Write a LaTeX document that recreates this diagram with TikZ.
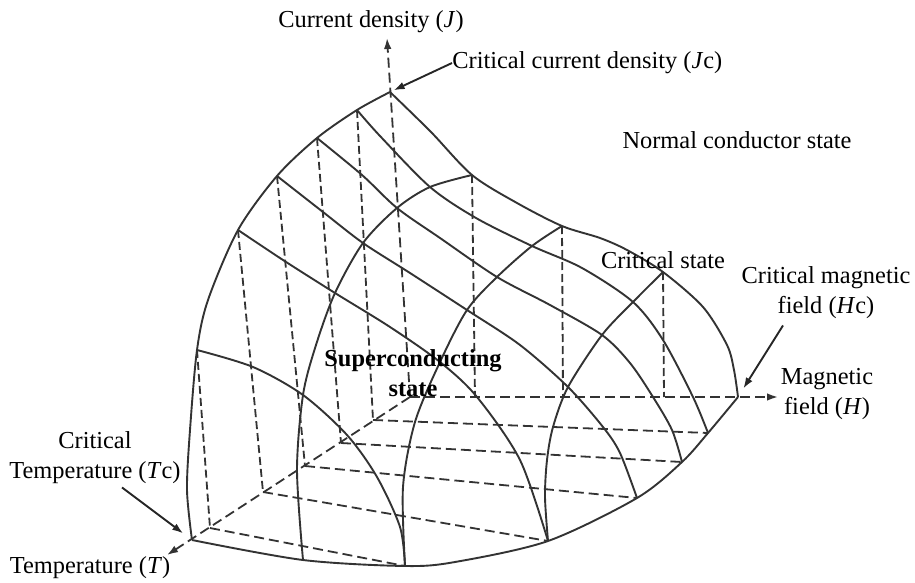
\documentclass[tikz,border=0pt]{standalone}
\usepackage{fontspec}
\setmainfont{Liberation Serif}
\usetikzlibrary{arrows.meta}
\begin{document}
\begin{tikzpicture}[x=0.5pt, y=-0.5pt,
    surf/.style={draw=black!80, line width=0.95pt},
    drop/.style={draw=black!80, line width=0.9pt, dash pattern=on 4pt off 2pt},
    floor/.style={draw=black!80, line width=0.9pt, dash pattern=on 5pt off 2.5pt},
    axis/.style={floor, -{Latex[length=5.5pt, width=3.8pt]}},
    pointer/.style={draw=black!85, line width=0.95pt, -{Latex[length=5.5pt, width=3.8pt]}},
    lbl/.style={font=\fontsize{12.2pt}{15pt}\selectfont, inner sep=0pt, align=center}]
    \useasboundingbox (0,0) rectangle (915,583);

    \coordinate (O) at (410,397);
    \coordinate (jtip) at (387,38);
    \coordinate (htip) at (778,397);
    \coordinate (ttip) at (167,555);

    \coordinate (t0h0) at (390,92);
    \coordinate (t0h1) at (472,175);
    \coordinate (t0h2) at (562,226);
    \coordinate (t0h3) at (663,272);
    \coordinate (t0e) at (738,397);
    \coordinate (t1h0) at (357,110);
    \coordinate (t1h1) at (430,187);
    \coordinate (t1h2) at (532,246);
    \coordinate (t1h3) at (633,302);
    \coordinate (t1e) at (708,433);
    \coordinate (t2h0) at (317,138);
    \coordinate (t2h1) at (397,208);
    \coordinate (t2h2) at (497,277);
    \coordinate (t2h3) at (602,335);
    \coordinate (t2e) at (682,462);
    \coordinate (t3h0) at (277,176);
    \coordinate (t3h1) at (363,243);
    \coordinate (t3h2) at (467,310);
    \coordinate (t3h3) at (568,387);
    \coordinate (t3e) at (637,498);
    \coordinate (t4h0) at (238,230);
    \coordinate (t4h1) at (335,293);
    \coordinate (t4h2) at (440,362);
    \coordinate (t4e) at (548,541);
    \coordinate (t5h0) at (197,350);
    \coordinate (t5h1) at (303,395);
    \coordinate (t5e) at (405,566);
    \coordinate (h1e) at (303,560);
    \coordinate (tc) at (192,540);

    \coordinate (p1) at (373,420);
    \coordinate (p2) at (341,443);
    \coordinate (p3) at (305,466);
    \coordinate (p4) at (263,492);
    \coordinate (p5) at (210,528);
    \coordinate (q1) at (475,397);
    \coordinate (q2) at (563,397);
    \coordinate (q3) at (664,397);

    \draw [axis] (O) -- (jtip);
    \draw [axis] (O) -- (htip);
    \draw [axis] (O) -- (ttip);

    \draw [drop] (t1h0) -- (p1);
    \draw [drop] (t2h0) -- (p2);
    \draw [drop] (t3h0) -- (p3);
    \draw [drop] (t4h0) -- (p4);
    \draw [drop] (t5h0) -- (p5);
    \draw [drop] (t0h1) -- (q1);
    \draw [drop] (t0h2) -- (q2);
    \draw [drop] (t0h3) -- (q3);

    \draw [floor] (p1) -- (t1e);
    \draw [floor] (p2) -- (t2e);
    \draw [floor] (p3) -- (t3e);
    \draw [floor] (p4) -- (t4e);
    \draw [floor] (p5) -- (t5e);

    \draw [surf] plot [smooth] coordinates {(tc) (187,490) (190,430) (t5h0) (208,300) (t4h0) (t3h0) (t2h0) (t1h0) (t0h0)};
    \draw [surf] plot [smooth] coordinates {(tc) (h1e) (t5e) (455,562) (t4e) (t3e) (t2e) (t1e) (t0e)};

    \draw [surf] plot [smooth] coordinates {(t0h0) (431,132) (t0h1) (517,203) (t0h2) (600,238) (627,250) (t0h3) (703,307) (727,345) (734,370) (t0e)};
    \draw [surf] plot [smooth] coordinates {(t1h0) (380,136) (t1h1) (476,218) (t1h2) (582,268) (t1h3) (663,340) (693,397) (t1e)};
    \draw [surf] plot [smooth] coordinates {(t2h0) (362,175) (t2h1) (440,238) (t2h2) (550,305) (t2h3) (630,363) (653,397) (672,430) (t2e)};
    \draw [surf] plot [smooth] coordinates {(t3h0) (323,212) (t3h1) (410,273) (t3h2) (520,345) (t3h3) (603,427) (620,453) (t3e)};
    \draw [surf] plot [smooth] coordinates {(t4h0) (283,260) (t4h1) (390,327) (t4h2) (477,397) (520,460) (t4e)};
    \draw [surf] plot [smooth] coordinates {(t5h0) (253,367) (t5h1) (347,435) (377,477) (400,527) (t5e)};

    \draw [surf] plot [smooth] coordinates {(t0h1) (t1h1) (t2h1) (t3h1) (t4h1) (316,345) (t5h1) (297,470) (h1e)};
    \draw [surf] plot [smooth] coordinates {(t0h2) (t1h2) (t2h2) (t3h2) (t4h2) (415,422) (403,487) (t5e)};
    \draw [surf] plot [smooth] coordinates {(t0h3) (t1h3) (t2h3) (t3h3) (553,427) (547,460) (545,497) (t4e)};

    \node [lbl] (jaxis) at (371,22) {Current density (\textit{J})};
    \node [lbl, anchor=west] (jclabel) at (452,63) {Critical current density (\textit{J}c)};
    \node [lbl] (normal) at (737,140) {Normal conductor state};
    \node [lbl] (critical) at (663,260) {Critical state};
    \node [lbl] (hclabel) at (826,293) {Critical magnetic\\field (\textit{H}c)};
    \node [lbl] (haxis) at (827,394) {Magnetic\\field (\textit{H})};
    \node [lbl] (tclabel) at (95,458) {Critical\\Temperature (\textit{T}c)};
    \node [lbl] (taxis) at (90,568) {Temperature (\textit{T})};
    \node [lbl, font=\fontsize{12.2pt}{15pt}\selectfont\bfseries] (superc) at (413,373) {Superconducting\\state};

    \draw [pointer, shorten >=2pt] (jclabel.west) -- (t0h0);
    \draw [pointer, shorten >=5pt] ([shift={(-43,6)}]hclabel.south) -- (t0e);
    \draw [pointer, shorten >=5.5pt] ([shift={(27,3)}]tclabel.south) -- (tc);
\end{tikzpicture}
\end{document}
